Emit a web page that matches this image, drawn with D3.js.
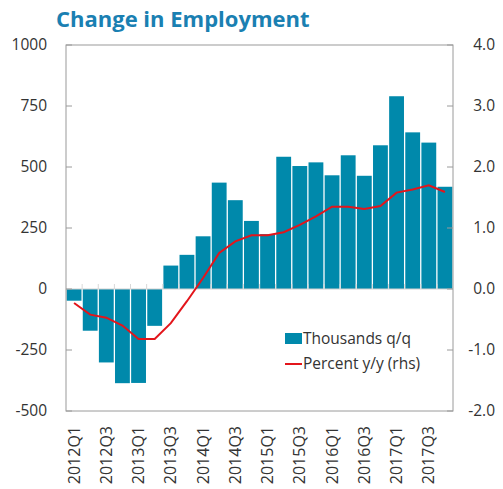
<!DOCTYPE html>
<meta charset="utf-8">
<style>
body { margin: 0; background: #fff; }
text { font-family: "Open Sans", "Noto Sans", sans-serif; fill: #333; }
</style>
<svg width="503" height="489"></svg>
<script src="https://d3js.org/d3.v7.min.js"></script>
<script>

var quarters = [
	"2012Q1","2012Q2","2012Q3","2012Q4","2013Q1","2013Q2","2013Q3","2013Q4",
	"2014Q1","2014Q2","2014Q3","2014Q4","2015Q1","2015Q2","2015Q3","2015Q4",
	"2016Q1","2016Q2","2016Q3","2016Q4","2017Q1","2017Q2","2017Q3","2017Q4"
];

// thousands q/q (lhs)
var thousands = [
	-48, -171, -301, -386, -385, -151, 96, 140,
	216, 436, 364, 279, 225, 542, 504, 519,
	466, 548, 464, 589, 790, 642, 600, 419
];

// percent y/y (rhs)
var percent = [
	-0.23, -0.42, -0.47, -0.60, -0.82, -0.82, -0.56, -0.20,
	0.18, 0.59, 0.78, 0.88, 0.88, 0.93, 1.05, 1.19,
	1.35, 1.35, 1.31, 1.36, 1.58, 1.63, 1.70, 1.59
];

var leftTicks = [-500, -250, 0, 250, 500, 750, 1000];
var rightTicks = [-2, -1, 0, 1, 2, 3, 4];

var svg = d3.select("svg"),
	x0 = 66, x1 = 453, y0 = 45, y1 = 411;

var barColor = "#0089ab",
	lineColor = "#e3151b",
	frameColor = "#9a9a9a";

var x = d3.scaleBand()
	.domain(quarters)
	.range([x0, x1])
	.paddingInner(0.08)
	.paddingOuter(0.04);

var yL = d3.scaleLinear().domain([-500, 1000]).range([y1, y0]);
var yR = d3.scaleLinear().domain([-2, 4]).range([y1, y0]);

svg.append("text")
	.attr("x", 56)
	.attr("y", 27)
	.style("font-size", "22px")
	.style("font-weight", "bold")
	.style("fill", "#1a80b2")
	.text("Change in Employment");

// bars
svg.append("g")
  .selectAll("rect")
  .data(thousands)
  .enter().append("rect")
	.attr("x", function(d, i) { return x(quarters[i]); })
	.attr("width", x.bandwidth())
	.attr("y", function(d) { return yL(Math.max(0, d)); })
	.attr("height", function(d) { return Math.abs(yL(d) - yL(0)); })
	.style("fill", barColor);

// zero line + category ticks
svg.append("line")
	.attr("x1", x0).attr("x2", x1)
	.attr("y1", yL(0)).attr("y2", yL(0))
	.style("stroke", "#d0d0d0").style("stroke-width", 1);

svg.append("g")
  .selectAll("line")
  .data(quarters.slice(1))
  .enter().append("line")
	.attr("x1", function(d) { return x(d) - x.step() * x.paddingInner() / 2; })
	.attr("x2", function(d) { return x(d) - x.step() * x.paddingInner() / 2; })
	.attr("y1", yL(0)).attr("y2", yL(0) - 5)
	.style("stroke", "#d8d8d8");

// line
var line = d3.line()
	.x(function(d, i) { return x(quarters[i]) + x.bandwidth() / 2; })
	.y(function(d) { return yR(d); });

svg.append("path")
	.datum(percent)
	.attr("d", line)
	.style("fill", "none")
	.style("stroke", lineColor)
	.style("stroke-width", 2);

// frame
svg.append("rect")
	.attr("x", x0).attr("y", y0)
	.attr("width", x1 - x0).attr("height", y1 - y0)
	.style("fill", "none")
	.style("stroke", frameColor);

// left axis
var gl = svg.append("g");
gl.selectAll("line")
  .data(leftTicks)
  .enter().append("line")
	.attr("x1", x0).attr("x2", x0 + 6)
	.attr("y1", function(d) { return yL(d); })
	.attr("y2", function(d) { return yL(d); })
	.style("stroke", frameColor);
gl.selectAll("text")
  .data(leftTicks)
  .enter().append("text")
	.attr("x", 47)
	.attr("y", function(d) { return yL(d); })
	.attr("dy", "0.35em")
	.style("text-anchor", "end")
	.style("font-size", "15.5px")
	.text(function(d) { return d; });

// right axis
var gr = svg.append("g");
gr.selectAll("line")
  .data(rightTicks)
  .enter().append("line")
	.attr("x1", x1).attr("x2", x1 - 6)
	.attr("y1", function(d) { return yR(d); })
	.attr("y2", function(d) { return yR(d); })
	.style("stroke", frameColor);
gr.selectAll("text")
  .data(rightTicks)
  .enter().append("text")
	.attr("x", 495)
	.attr("y", function(d) { return yR(d); })
	.attr("dy", "0.35em")
	.style("text-anchor", "end")
	.style("font-size", "15.5px")
	.text(function(d) { return d3.format(".1f")(d).replace("−", "-"); });

// x labels every second quarter
svg.append("g")
  .selectAll("text")
  .data(quarters.filter(function(d, i) { return i % 2 === 0; }))
  .enter().append("text")
	.attr("transform", function(d) {
		return "translate(" + (x(d) + x.bandwidth() / 2) + "," + 426 + ") rotate(-90)";
	})
	.attr("dy", "0.35em")
	.style("text-anchor", "end")
	.style("font-size", "16px")
	.text(function(d) { return d; });

// legend
var lg = svg.append("g");
lg.append("rect")
	.attr("x", 285).attr("y", 333)
	.attr("width", 17).attr("height", 11)
	.style("fill", barColor);
lg.append("text")
	.attr("x", 303).attr("y", 344)
	.style("font-size", "15.5px")
	.text("Thousands q/q");
lg.append("line")
	.attr("x1", 285).attr("x2", 302)
	.attr("y1", 364).attr("y2", 364)
	.style("stroke", lineColor)
	.style("stroke-width", 2);
lg.append("text")
	.attr("x", 303).attr("y", 369)
	.style("font-size", "15.5px")
	.text("Percent y/y (rhs)");

</script>
